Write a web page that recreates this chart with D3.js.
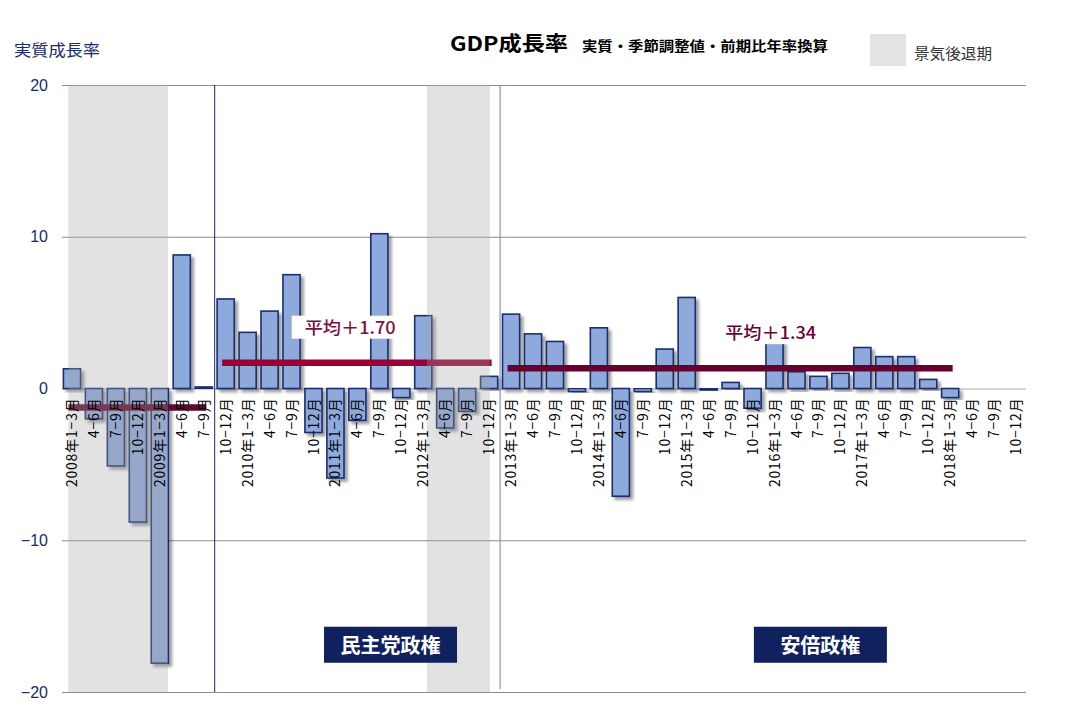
<!DOCTYPE html>
<html><head><meta charset="utf-8">
<script src="https://cdn.jsdelivr.net/npm/d3@7"></script>
<style>
html,body{margin:0;padding:0;background:#fff;}
svg{display:block;}
text{font-family:"Noto Sans CJK JP",sans-serif;}
</style></head>
<body>
<svg id="c" width="1074" height="720"></svg>
<script>
// ---------- data ----------
const categories = [
 "2008年1−3月","4−6月","7−9月","10−12月",
 "2009年1−3月","4−6月","7−9月","10−12月",
 "2010年1−3月","4−6月","7−9月","10−12月",
 "2011年1−3月","4−6月","7−9月","10−12月",
 "2012年1−3月","4−6月","7−9月","10−12月",
 "2013年1−3月","4−6月","7−9月","10−12月",
 "2014年1−3月","4−6月","7−9月","10−12月",
 "2015年1−3月","4−6月","7−9月","10−12月",
 "2016年1−3月","4−6月","7−9月","10−12月",
 "2017年1−3月","4−6月","7−9月","10−12月",
 "2018年1−3月","4−6月","7−9月","10−12月"
];
const growth = [
 1.3, -2.0, -5.1, -8.8,
 -18.1, 8.8, 0.1, 5.9,
 3.7, 5.1, 7.5, -2.9,
 -5.9, -2.1, 10.2, -0.6,
 4.8, -2.6, -1.5, 0.8,
 4.9, 3.6, 3.1, -0.2,
 4.0, -7.1, -0.2, 2.6,
 6.0, -0.1, 0.4, -1.3,
 3.1, 1.1, 0.8, 1.0,
 2.7, 2.1, 2.1, 0.6,
 -0.6, null, null, null
];
const yTicks = [-20, -10, 0, 10, 20];
// recession periods (peak month -> trough month), months counted from 2008-01
const recessionStart = ["2008-02", "2012-03"];
const recessionEnd   = ["2009-03", "2012-11"];
// period averages: first quarter index, last quarter index, value, label
const avgFrom  = [0, 7, 20];
const avgTo    = [6, 19, 40];
const avgValue = [-1.25, 1.70, 1.34];
const avgLabel = [null, "平均＋1.70", "平均＋1.34"];
// government changes (quarter boundary index)
const regimeNames = ["民主党政権", "安倍政権"];
const regimeStart = [7, 20];

// ---------- layout ----------
const svg = d3.select("#c");
const X0 = 61, X1 = 1027, YT = 85, YB = 692;
const x = d3.scaleBand().domain(d3.range(categories.length)).range([X0, X1]).paddingInner(0.22).paddingOuter(0.11);
const xi = d3.scaleLinear().domain([0, categories.length]).range([X0, X1]);
const y = d3.scaleLinear().domain([-20, 20]).range([YB, YT]);
const cx = i => x(i) + x.bandwidth() / 2;
const monthIdx = s => { const [yy, mm] = s.split("-").map(Number); return (yy - 2008) * 12 + (mm - 1); };

const defs = svg.append("defs");
const f = defs.append("filter").attr("id", "sh").attr("x", "-30%").attr("y", "-10%").attr("width", "170%").attr("height", "130%");
f.append("feDropShadow").attr("dx", 3).attr("dy", 3).attr("stdDeviation", 1.6).attr("flood-color", "#000").attr("flood-opacity", 0.38);

// grid + y axis
const yAxis = d3.axisLeft(y).tickValues(yTicks).tickSizeInner(-(1026 - 62)).tickSizeOuter(0).tickPadding(14).tickFormat(d3.format("d"));
const ga = svg.append("g").attr("transform", "translate(62,0)").call(yAxis);
ga.select(".domain").remove();
ga.selectAll(".tick line").attr("stroke", d => d === 0 ? "#a9a9a9" : "#8c8c8c").attr("stroke-width", 1);
ga.selectAll(".tick text").attr("fill", "#1a2a6c").style("font-family", "'Liberation Sans Narrow','Liberation Sans',sans-serif").style("font-size", "16px");

// bars
svg.append("g").selectAll("rect").data(growth.map((v, i) => ({v, i})).filter(d => d.v !== null))
 .join("rect")
 .attr("x", d => x(d.i)).attr("width", x.bandwidth())
 .attr("y", d => Math.min(y(d.v), y(0))).attr("height", d => Math.abs(y(d.v) - y(0)))
 .attr("fill", "#8eaadc").attr("stroke", "#1c2e6e").attr("stroke-width", 1.6)
 .attr("filter", "url(#sh)");

// average lines
const avgColors = ["#5e0a30", "#990033", "#66002e"];
svg.append("g").selectAll("line").data(avgValue.map((v, k) => ({v, k})))
 .join("line")
 .attr("x1", d => cx(avgFrom[d.k]) - 3.5).attr("x2", d => cx(avgTo[d.k]) + 2.5)
 .attr("y1", d => y(d.v)).attr("y2", d => y(d.v))
 .attr("stroke", d => avgColors[d.k]).attr("stroke-width", 6.5);

// recession shading (over bars, translucent)
svg.append("g").selectAll("rect").data(recessionStart.map((s, k) => ({s: monthIdx(s), e: monthIdx(recessionEnd[k])})))
 .join("rect")
 .attr("x", d => xi(d.s / 3)).attr("width", d => xi((d.e + 0.6) / 3) - xi(d.s / 3))
 .attr("y", YT).attr("height", YB - YT)
 .attr("fill", "rgb(165,165,165)").attr("fill-opacity", 0.32);

// regime divider lines
svg.append("line").attr("x1", xi(regimeStart[0])).attr("x2", xi(regimeStart[0])).attr("y1", YT).attr("y2", YB)
 .attr("stroke", "#1a2a6c").attr("stroke-width", 1);
svg.append("line").attr("x1", xi(regimeStart[1])).attr("x2", xi(regimeStart[1])).attr("y1", YT).attr("y2", YB - 3)
 .attr("stroke", "#8795bd").attr("stroke-width", 1.2);

// x labels
svg.append("g").selectAll("text").data(categories.map((c, i) => ({c, i})))
 .join("text")
 .attr("transform", d => `translate(${cx(d.i)},${y(0) + 9}) rotate(-90)`)
 .attr("text-anchor", "end").attr("dy", "0.36em")
 .style("font-family", "'Liberation Sans Narrow','Noto Sans CJK JP',sans-serif")
 .style("font-size", "14px").style("letter-spacing", "0.8px")
 .attr("fill", "#000")
 .text(d => d.c);

// average labels
const labelAt = [null, 11.1, 30.25];
const labelColors = [null, "#7a1040", "#6b0035"];
avgLabel.forEach((t, k) => {
  if (!t) return;
  const lx = xi(labelAt[k]);
  svg.append("rect").attr("x", lx - 13).attr("y", y(avgValue[k]) - 47).attr("width", 108).attr("height", 23).attr("fill", "#fff");
  svg.append("text").attr("x", lx).attr("y", y(avgValue[k]) - 29)
   .attr("fill", labelColors[k]).style("font-size", "17px").style("font-weight", 500)
   .attr("textLength", 91).attr("lengthAdjust", "spacingAndGlyphs").text(t);
});

// regime boxes
const boxFrom = [11.98, 31.56];
regimeNames.forEach((n, k) => {
  const bx = xi(boxFrom[k]);
  svg.append("rect").attr("x", bx).attr("y", y(-15.7)).attr("width", 133).attr("height", 36).attr("fill", "#0f215e");
  svg.append("text").attr("x", bx + 66.5).attr("y", y(-15.7) + 26).attr("text-anchor", "middle")
   .attr("fill", "#fff").style("font-size", "20px").style("font-weight", "bold").text(n);
});

// titles
svg.append("text").attr("x", 14).attr("y", 56).attr("fill", "#1a2a6c").style("font-size", "16px")
 .attr("textLength", 86).attr("lengthAdjust", "spacingAndGlyphs").text("実質成長率");
svg.append("text").attr("x", 450).attr("y", 51).attr("fill", "#000").style("font-size", "20px").style("font-weight", "bold")
 .attr("textLength", 118).attr("lengthAdjust", "spacingAndGlyphs").text("GDP成長率");
svg.append("text").attr("x", 582).attr("y", 51).attr("fill", "#000").style("font-size", "13.5px").style("font-weight", "bold")
 .attr("textLength", 246).attr("lengthAdjust", "spacingAndGlyphs").text("実質・季節調整値・前期比年率換算");

// legend
svg.append("rect").attr("x", 870).attr("y", 34).attr("width", 36).attr("height", 32).attr("fill", "#e3e3e3");
svg.append("text").attr("x", 914).attr("y", 59).attr("fill", "#333").style("font-size", "15px")
 .attr("textLength", 78).attr("lengthAdjust", "spacingAndGlyphs").text("景気後退期");
</script>
</body></html>
